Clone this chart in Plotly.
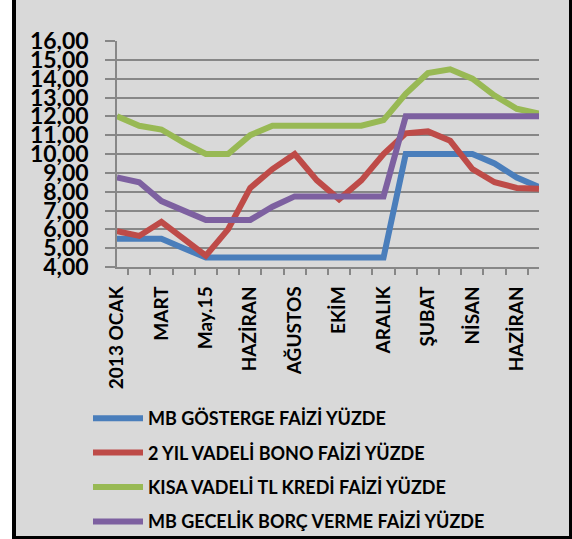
import plotly.graph_objects as go

# ---- data ----
periods = ["2013 OCAK", "2013 ŞUBAT", "2013 MART", "2013 NİSAN", "2013 May.15", "2013 MAYIS",
           "2013 HAZİRAN", "2013 TEMMUZ", "2013 AĞUSTOS", "2013 EYLÜL", "2013 EKİM", "2013 KASIM",
           "2013 ARALIK", "2014 OCAK", "2014 ŞUBAT", "2014 MART", "2014 NİSAN", "2014 MAYIS",
           "2014 HAZİRAN", "2014 TEMMUZ"]
tick_labels = ["2013 OCAK", "", "MART", "", "May.15", "", "HAZİRAN", "", "AĞUSTOS", "",
               "EKİM", "", "ARALIK", "", "ŞUBAT", "", "NİSAN", "", "HAZİRAN", ""]

mb_gosterge = [5.5, 5.5, 5.5, 5.0, 4.5, 4.5, 4.5, 4.5, 4.5, 4.5, 4.5, 4.5, 4.5,
               10.0, 10.0, 10.0, 10.0, 9.5, 8.75, 8.25]
bono_2yil = [5.9, 5.65, 6.4, 5.5, 4.6, 6.0, 8.2, 9.2, 10.0, 8.6, 7.6, 8.6, 10.0,
             11.1, 11.2, 10.7, 9.2, 8.5, 8.2, 8.15]
kisa_kredi = [12.0, 11.5, 11.3, 10.6, 10.0, 10.0, 11.0, 11.5, 11.5, 11.5, 11.5, 11.5, 11.8,
              13.2, 14.3, 14.5, 14.0, 13.1, 12.4, 12.15]
mb_gecelik = [8.75, 8.5, 7.5, 7.0, 6.5, 6.5, 6.5, 7.2, 7.75, 7.75, 7.75, 7.75, 7.75,
              12.0, 12.0, 12.0, 12.0, 12.0, 12.0, 12.0]

series_names = ["MB GÖSTERGE FAİZİ YÜZDE", "2 YIL VADELİ BONO FAİZİ YÜZDE",
                "KISA VADELİ TL KREDİ FAİZİ YÜZDE", "MB GECELİK BORÇ VERME FAİZİ YÜZDE"]
series_values = [mb_gosterge, bono_2yil, kisa_kredi, mb_gecelik]
colors = ["#4A7EBB", "#BE4B48", "#98B954", "#7D60A0"]

# ---- layout geometry ----
W, H = 572, 539
L, R, T, B = 117, 33, 41, 272
PW, PH = W - L - R, H - T - B


def px_x(p):
    return (p - L) / PW


def px_y(p):
    return (H - B - p) / PH


FONT = "Lato"
BG = "#D9D9D9"
GRID = "#878787"

fig = go.Figure()
for name, vals, col in zip(series_names, series_values, colors):
    fig.add_trace(go.Scatter(
        x=periods, y=vals, name=name, mode="lines",
        line=dict(color=col, width=6), legendgroup=name,
    ))

fig.update_layout(
    width=W, height=H,
    margin=dict(l=L, r=R, t=T, b=B, autoexpand=False),
    paper_bgcolor=BG, plot_bgcolor=BG,
    separators=",.",
    font=dict(family=FONT, color="black", weight="bold"),
    showlegend=True,
    legend=dict(
        x=px_x(88), y=px_y(400), xanchor="left", yanchor="top",
        orientation="v", traceorder="grouped", tracegroupgap=8,
        font=dict(family=FONT, size=18, color="black", weight="bold"),
        bgcolor="rgba(0,0,0,0)", itemwidth=50,
    ),
    xaxis=dict(
        type="category", categoryorder="array", categoryarray=periods,
        tickvals=periods, ticktext=tick_labels, tickangle=-90,
        tickson="boundaries", ticks="outside", ticklen=6, tickwidth=1.5, tickcolor=GRID,
        showline=True, linecolor=GRID, linewidth=1.5, showgrid=False,
        tickfont=dict(family=FONT, size=19, color="black", weight="bold"),
        ticklabelstandoff=10, fixedrange=True, automargin=False,
    ),
    yaxis=dict(
        range=[4, 16], dtick=1, tickformat=".2f",
        ticks="outside", ticklen=10, tickwidth=1.5, tickcolor=GRID,
        showline=True, linecolor=GRID, linewidth=1.5,
        showgrid=True, gridcolor=GRID, gridwidth=1.5, zeroline=False,
        tickfont=dict(family=FONT, size=23, color="black", weight="bold"),
        ticklabelstandoff=12, fixedrange=True, automargin=False,
    ),
    shapes=[
        dict(type="rect", xref="paper", yref="paper", x0=px_x(0), x1=px_x(12),
             y0=px_y(H), y1=px_y(0), fillcolor="white", line_width=0, layer="above"),
        dict(type="rect", xref="paper", yref="paper", x0=px_x(12), x1=px_x(16),
             y0=px_y(H), y1=px_y(0), fillcolor="black", line_width=0, layer="above"),
        dict(type="rect", xref="paper", yref="paper", x0=px_x(12), x1=px_x(W),
             y0=px_y(H), y1=px_y(536), fillcolor="black", line_width=0, layer="above"),
        dict(type="rect", xref="paper", yref="paper", x0=px_x(569), x1=px_x(W),
             y0=px_y(H), y1=px_y(0), fillcolor="black", line_width=0, layer="above"),
    ],
)

fig.write_html("out.html", config={"displayModeBar": False},
               post_script="document.body.style.margin='0';")
